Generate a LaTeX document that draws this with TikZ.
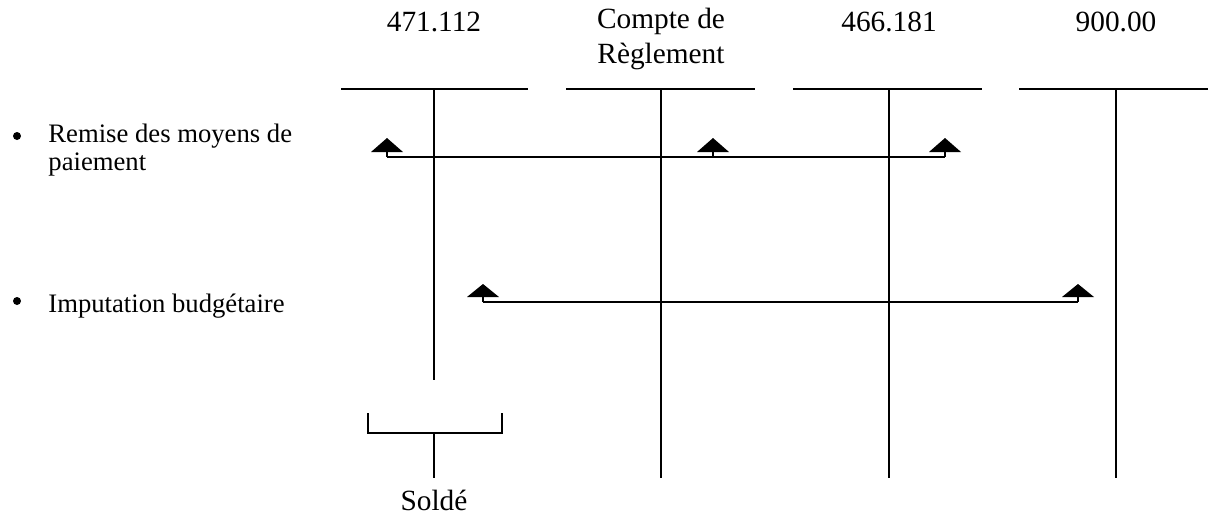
\documentclass[tikz,border=0pt]{standalone}
\usepackage{fontspec}
\setmainfont{Liberation Serif}
\begin{document}
\begin{tikzpicture}[x=0.45pt,y=-0.45pt,
  acct/.style={line width=0.9pt},
  thin/.style={line width=0.5pt},
  thick/.style={line width=0.9pt},
  tip/.style={fill=black},
  txt/.style={inner sep=0pt,font=\fontsize{12}{14}\selectfont},
  lab/.style={inner sep=0pt,anchor=base,font=\fontsize{13.2}{15}\selectfont},
  dot/.style={circle,fill=black,inner sep=0pt,minimum size=3.6pt}]
\useasboundingbox (0,0) rectangle (1208,517);
% account headings
\node[lab] (h1) at (434,31) {471.112};
\node[lab] (h2a) at (661,28) {Compte de};
\node[lab] (h2b) at (661,63) {Règlement};
\node[lab] (h3) at (889,31) {466.181};
\node[lab] (h4) at (1116,31) {900.00};
% T accounts
\coordinate (a1l) at (341,89); \coordinate (a1r) at (528,89);
\coordinate (a1t) at (434,89); \coordinate (a1b) at (434,380);
\coordinate (a2l) at (566,89); \coordinate (a2r) at (755,89);
\coordinate (a2t) at (661,89); \coordinate (a2b) at (661,478);
\coordinate (a3l) at (793,89); \coordinate (a3r) at (982,89);
\coordinate (a3t) at (889,89); \coordinate (a3b) at (889,478);
\coordinate (a4l) at (1019,89); \coordinate (a4r) at (1208,89);
\coordinate (a4t) at (1116,89); \coordinate (a4b) at (1116,478);
\draw[acct] (a1l) -- (a1r) (a1t) -- (a1b);
\draw[acct] (a2l) -- (a2r) (a2t) -- (a2b);
\draw[acct] (a3l) -- (a3r) (a3t) -- (a3b);
\draw[acct] (a4l) -- (a4r) (a4t) -- (a4b);
% bullets and labels
\node[dot] (b1) at (17,136) {};
\node[txt,anchor=base west] (r1) at (48,142) {Remise des moyens de};
\node[txt,anchor=base west] (r1b) at (48,170) {paiement};
\node[dot] (b2) at (17,301) {};
\node[txt,anchor=base west] (r2) at (48,312) {Imputation budgétaire};
% row 1
\coordinate (p1) at (387,157); \coordinate (p2) at (713,157); \coordinate (p3) at (945,157);
\draw[thin] (p1) -- (p3);
\foreach \c in {p1,p2,p3}{
  \draw[thick] (\c) -- ++(0,-6);
  \fill[tip] (\c) ++(0,-19) -- ++(16,14) -- ++(-32,0) -- cycle;
}
% row 2
\coordinate (q1) at (483,302); \coordinate (q2) at (1078,302);
\draw[thick] (q1) -- (q2);
\foreach \c in {q1,q2}{
  \draw[thick] (\c) -- ++(0,-6);
  \fill[tip] (\c) ++(0,-18) -- ++(16,13) -- ++(-32,0) -- cycle;
}
% bracket
\coordinate (k1) at (368,413); \coordinate (k2) at (502,413);
\coordinate (kc) at (434,433); \coordinate (ks) at (434,478);
\draw[acct] (k1) |- (k2 |- kc) -- (k2);
\draw[acct] (kc) -- (ks);
\node[lab] (s) at (434,510) {Soldé};
\end{tikzpicture}
\end{document}
